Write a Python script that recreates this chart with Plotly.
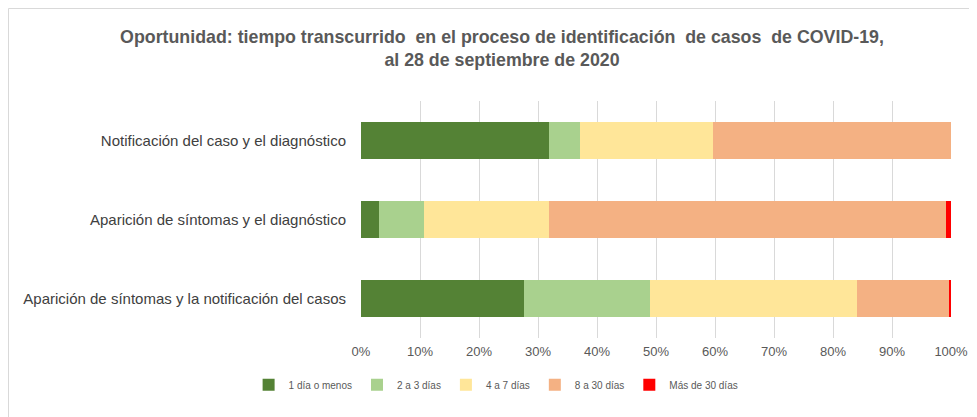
import plotly.graph_objects as go

categories = [
    "Aparición de síntomas y la notificación del casos",
    "Aparición de síntomas y el diagnóstico",
    "Notificación del caso y el diagnóstico",
]
series_names = ["1 día o menos", "2 a 3 días", "4 a 7 días", "8 a 30 días", "Más de 30 días"]
v_1dia = [27.6, 3.0, 31.8]
v_2a3 = [21.4, 7.6, 5.3]
v_4a7 = [35.1, 21.2, 22.6]
v_8a30 = [15.5, 67.3, 40.3]
v_mas30 = [0.4, 0.9, 0.0]
tick_vals = [0, 10, 20, 30, 40, 50, 60, 70, 80, 90, 100]
tick_text = [f"{v}%" for v in tick_vals]

colors = ["#548235", "#A9D18E", "#FFE699", "#F4B183", "#FF0000"]
series_values = [v_1dia, v_2a3, v_4a7, v_8a30, v_mas30]

FONT = "Liberation Sans, Arial, sans-serif"

W, H = 969, 409
L, R, T, B = 353, 26, 93, 79
PW, PH = W - L - R, H - T - B

fig = go.Figure()
for name, vals, col in zip(series_names, series_values, colors):
    fig.add_trace(go.Bar(
        y=categories, x=vals, name=name, orientation="h",
        marker=dict(color=col, line=dict(width=0)),
    ))

fig.update_layout(
    barmode="stack",
    bargap=0.52,
    width=W, height=H,
    paper_bgcolor="white", plot_bgcolor="white",
    margin=dict(l=L, r=R, t=T, b=B, autoexpand=False),
    title=dict(
        text="<b>Oportunidad: tiempo transcurrido  en el proceso de identificación  de casos  de COVID-19,<br>al 28 de septiembre de 2020</b>",
        x=(502 - 8) / W, xanchor="center", y=0.915, yanchor="top",
        font=dict(family=FONT, size=17.8, color="#595959"),
    ),
    xaxis=dict(
        range=[0, 100], tickvals=tick_vals, ticktext=tick_text,
        showgrid=True, gridcolor="#D9D9D9", gridwidth=1,
        zeroline=False, showline=False, ticks="", automargin=False,
        ticklabelstandoff=4,
        tickfont=dict(family=FONT, size=13, color="#595959"),
        fixedrange=True,
    ),
    yaxis=dict(
        showgrid=False, showline=False, ticks="", automargin=False,
        ticklabelstandoff=14,
        tickfont=dict(family=FONT, size=15, color="#404040"),
    ),
    legend=dict(
        orientation="h", x=0.229, xanchor="center", y=-0.136, yanchor="top",
        font=dict(family=FONT, size=10, color="#595959"),
        traceorder="normal", itemwidth=30, tracegroupgap=0,
    ),
    showlegend=True,
)
# chart frame (left and top edges visible in the reference)
fig.add_shape(type="line", xref="paper", yref="paper",
              x0=(0.5 - L) / PW, x1=(0.5 - L) / PW, y0=-B / PH, y1=1 + (T - 0.5) / PH,
              line=dict(color="#D9D9D9", width=1))
fig.add_shape(type="line", xref="paper", yref="paper",
              x0=(0.5 - L) / PW, x1=1 + R / PW, y0=1 + (T - 0.5) / PH, y1=1 + (T - 0.5) / PH,
              line=dict(color="#D9D9D9", width=1))

fig.write_html("out.html")
